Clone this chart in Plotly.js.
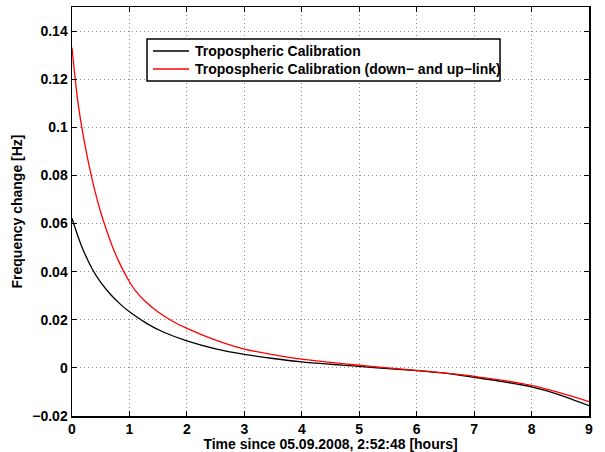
<!DOCTYPE html>
<html>
<head>
<meta charset="utf-8">
<script src="https://cdn.plot.ly/plotly-3.0.1.min.js"></script>
<style>html,body{margin:0;padding:0;background:#fff;}#chart{width:605px;height:452px;}</style>
</head>
<body>
<div id="chart"></div>
<script>
// Time since 05.09.2008, 2:52:48 [hours]
const blackX = [0, 0.05, 0.16, 0.35, 0.5, 0.68, 0.85, 1, 1.32, 1.6, 2, 2.5, 3, 3.5, 4, 4.5, 5, 5.5, 6, 6.5, 7, 7.5, 8, 8.5, 9];
const blackY = [0.0622, 0.0585, 0.0510, 0.0412, 0.0355, 0.0303, 0.0263, 0.0233, 0.0182, 0.0148, 0.0112, 0.0079, 0.0056, 0.0039, 0.0025, 0.0015, 0.0006, -0.0003, -0.0011, -0.0022, -0.0039, -0.0057, -0.0079, -0.0113, -0.0157];
const redX = [0, 0.1, 0.2, 0.3, 0.4, 0.5, 0.6, 0.7, 0.8, 0.9, 1, 1.1, 1.25, 1.5, 1.75, 2, 2.5, 3, 3.5, 4, 4.5, 5, 5.5, 6, 6.5, 7, 7.5, 8, 8.5, 9];
const redY = [0.1331, 0.1110, 0.0960, 0.0838, 0.0735, 0.0647, 0.0573, 0.0507, 0.0450, 0.0401, 0.0358, 0.0322, 0.0282, 0.0232, 0.0194, 0.0164, 0.0115, 0.0078, 0.0055, 0.0036, 0.0023, 0.0011, 0.0000, -0.0010, -0.0022, -0.0035, -0.0052, -0.0073, -0.0104, -0.0140];
const seriesNames = ["Tropospheric Calibration", "Tropospheric Calibration (down\u2212 and up\u2212link)"];
const seriesColors = ["#000000", "#ff0000"];
const xTicks = [0, 1, 2, 3, 4, 5, 6, 7, 8, 9];
const yTicks = [-0.02, 0, 0.02, 0.04, 0.06, 0.08, 0.1, 0.12, 0.14];
const yTickText = ["\u22120.02", "0", "0.02", "0.04", "0.06", "0.08", "0.1", "0.12", "0.14"];

const font = {family: "Liberation Sans, Arial, sans-serif", size: 14, color: "#000", weight: "bold"};

const traces = [
  {x: blackX, y: blackY, mode: "lines", name: seriesNames[0], line: {color: seriesColors[0], width: 1.3, shape: "spline", smoothing: 0.7}},
  {x: redX, y: redY, mode: "lines", name: seriesNames[1], line: {color: seriesColors[1], width: 1.3, shape: "spline", smoothing: 0.9}}
];

const axisCommon = {
  showline: true, linecolor: "#000", linewidth: 1.5, mirror: "ticks",
  ticks: "inside", ticklen: 5, tickcolor: "#000", tickwidth: 1,
  showgrid: true, gridcolor: "#8c8c8c", griddash: "1px,3px", gridwidth: 1,
  zeroline: false, tickfont: font
};

// Legend box drawn in paper coordinates (MATLAB-style legend)
const legBox = {x0: 0.1451, x1: 0.8279, y0: 0.8191, y1: 0.9218};
const legRows = [0.8924, 0.8484];
const legLine = [0.1567, 0.2263];
const legText = 0.2340;

const shapes = [
  {type: "rect", xref: "paper", yref: "paper", x0: legBox.x0, x1: legBox.x1, y0: legBox.y0, y1: legBox.y1,
   line: {color: "#000", width: 1.5}, fillcolor: "#fff", layer: "above"}
];
const annotations = [];
seriesNames.forEach((n, i) => {
  shapes.push({type: "line", xref: "paper", yref: "paper", x0: legLine[0], x1: legLine[1], y0: legRows[i], y1: legRows[i],
               line: {color: seriesColors[i], width: 1.3}, layer: "above"});
  annotations.push({xref: "paper", yref: "paper", x: legText, y: legRows[i], xanchor: "left", yanchor: "middle",
                    text: n, showarrow: false, font: font});
});

const layout = {
  width: 605, height: 452,
  margin: {l: 72, r: 16, t: 7, b: 36},
  paper_bgcolor: "#fff", plot_bgcolor: "#fff",
  font: font,
  showlegend: false,
  shapes: shapes,
  annotations: annotations,
  xaxis: Object.assign({}, axisCommon, {range: [0, 9], tickvals: xTicks, ticktext: xTicks.map(String),
           title: {text: "Time since 05.09.2008, 2:52:48 [hours]", font: font, standoff: 0}}),
  yaxis: Object.assign({}, axisCommon, {range: [-0.02, 0.15], tickvals: yTicks, ticktext: yTickText,
           title: {text: "Frequency change [Hz]", font: font, standoff: 6}})
};

Plotly.newPlot("chart", traces, layout, {displayModeBar: false, staticPlot: true});
</script>
</body>
</html>
